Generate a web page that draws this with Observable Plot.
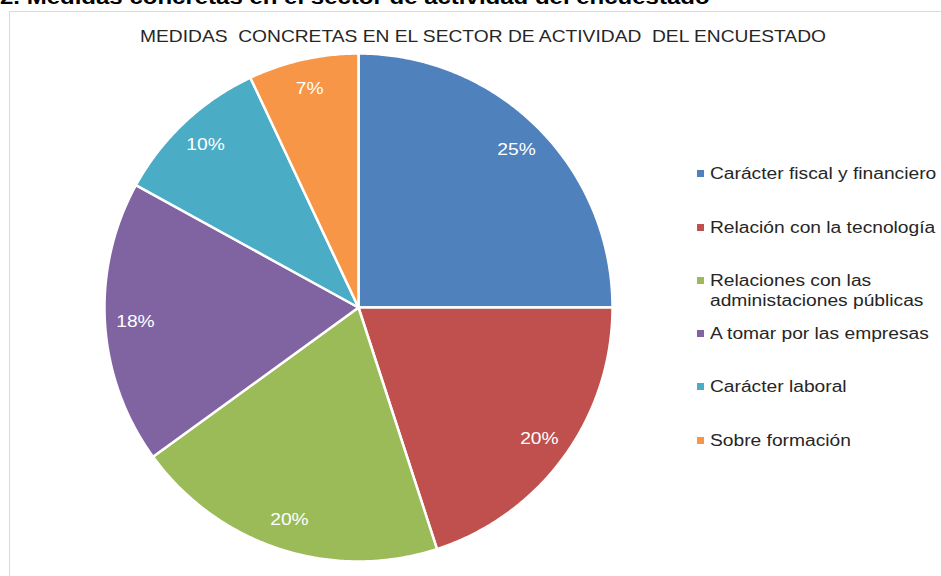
<!DOCTYPE html>
<html>
<head>
<meta charset="utf-8">
<script src="https://cdn.jsdelivr.net/npm/d3@7"></script>
<script src="https://cdn.jsdelivr.net/npm/@observablehq/plot@0.6"></script>
<style>
  html, body { margin: 0; padding: 0; background: #fff; }
  #wrap { position: relative; width: 941px; height: 576px; overflow: hidden; background: #fff; font-family: "Liberation Sans", Arial, sans-serif; }
  #toptitle { position: absolute; left: 0px; top: -14px; font-size: 20px; font-weight: bold; color: #000; white-space: nowrap; transform: scaleX(1.2); transform-origin: 0 0; }
  #frame { position: absolute; left: 9px; top: 11px; width: 1000px; height: 700px; border-left: 1px solid #d9d9d9; border-top: 1px solid #d9d9d9; }
  #ctitle { position: absolute; left: 0; width: 966px; top: 27px; text-align: center; font-size: 17px; color: #262626; white-space: pre; transform: scaleX(1.13); transform-origin: 483px 0; }
  #chart { position: absolute; left: 0; top: 0; }
  #legend { position: absolute; left: 697px; top: 0; font-size: 16px; color: #262626; }
  .li { position: absolute; left: 0; white-space: nowrap; line-height: 20px; }
  .sw { position: absolute; left: 0; top: 6px; width: 7px; height: 7px; }
  .lt { position: absolute; left: 13px; top: 0; transform: scaleX(1.2); transform-origin: 0 0; }
</style>
</head>
<body>
<div id="wrap">
  <div id="toptitle">2. Medidas concretas en el sector de actividad del encuestado</div>
  <div id="frame"></div>
  <div id="ctitle">MEDIDAS  CONCRETAS EN EL SECTOR DE ACTIVIDAD  DEL ENCUESTADO</div>
  <div id="chart"></div>
  <div id="legend"></div>
</div>
<script>
const categories = [
  "Carácter fiscal y financiero",
  "Relación con la tecnología",
  "Relaciones con las administaciones públicas",
  "A tomar por las empresas",
  "Carácter laboral",
  "Sobre formación"
];
const legendLines = [
  ["Carácter fiscal y financiero"],
  ["Relación con la tecnología"],
  ["Relaciones con las", "administaciones públicas"],
  ["A tomar por las empresas"],
  ["Carácter laboral"],
  ["Sobre formación"]
];
const values = [25, 20, 20, 18, 10, 7];
const labels = ["25%", "20%", "20%", "18%", "10%", "7%"];
const colors = ["#4F81BD", "#C0504D", "#9BBB59", "#8064A2", "#4BACC6", "#F79646"];

const total = d3.sum(values);
const pts = [];
const labelPts = [];
let cum = 0;
categories.forEach((c, i) => {
  const a0 = cum / total * 2 * Math.PI;
  cum += values[i];
  const a1 = cum / total * 2 * Math.PI;
  pts.push({cat: c, x: 0, y: 0});
  const n = Math.max(2, Math.ceil((a1 - a0) / (Math.PI / 360)));
  for (let k = 0; k <= n; k++) {
    const a = a0 + (a1 - a0) * k / n;
    pts.push({cat: c, x: Math.sin(a), y: Math.cos(a)});
  }
  pts.push({cat: c, x: 0, y: 0});
  const am = (a0 + a1) / 2;
  labelPts.push({cat: c, label: labels[i], x: 0.88 * Math.sin(am), y: 0.88 * Math.cos(am)});
});

const R = 254;
const plot = Plot.plot({
  width: 941,
  height: 576,
  marginLeft: 358 - R,
  marginRight: 941 - 358 - R,
  marginTop: 307 - R,
  marginBottom: 576 - 307 - R,
  x: {domain: [-1, 1], axis: null},
  y: {domain: [-1, 1], axis: null},
  color: {domain: categories, range: colors},
  style: {background: "transparent", fontFamily: "Liberation Sans, Arial, sans-serif"},
  marks: [
    Plot.line(pts, {x: "x", y: "y", z: "cat", fill: "cat", stroke: "white", strokeWidth: 2.5, strokeLinejoin: "round"}),
    Plot.text(labelPts, {x: "x", y: "y", text: "label", fill: "white", fontSize: 16, className: "slice-label"})
  ]
});
document.getElementById("chart").appendChild(plot);
// widen the slice labels to match the reference's stretched type
plot.querySelectorAll(".slice-label text").forEach(t => {
  const w = t.getComputedTextLength();
  t.setAttribute("textLength", (w * 1.2).toFixed(1));
  t.setAttribute("lengthAdjust", "spacingAndGlyphs");
});

const legendTops = [164, 218, 271, 324, 377, 431];
const leg = document.getElementById("legend");
categories.forEach((c, i) => {
  const div = document.createElement("div");
  div.className = "li";
  div.style.top = legendTops[i] + "px";
  const sw = document.createElement("div");
  sw.className = "sw";
  sw.style.background = colors[i];
  const t = document.createElement("div");
  t.className = "lt";
  t.innerHTML = legendLines[i].join("<br>");
  div.appendChild(sw); div.appendChild(t);
  leg.appendChild(div);
});
</script>
</body>
</html>
